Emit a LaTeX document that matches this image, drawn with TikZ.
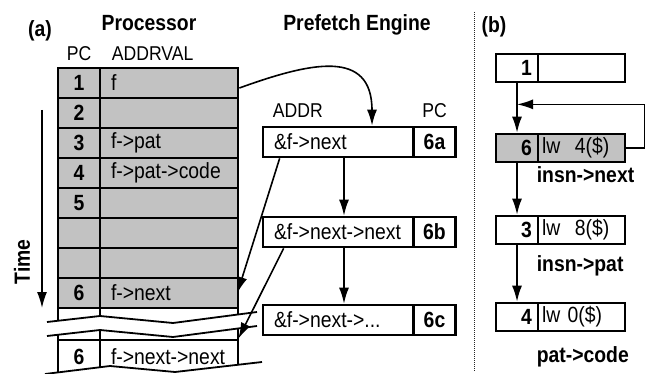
\documentclass[tikz,border=0pt]{standalone}
\usepackage{fontspec}
\setmainfont{Liberation Sans}[FakeStretch=0.88]
\usepackage{tikz}
\usetikzlibrary{arrows.meta,positioning}

\definecolor{cellgray}{gray}{0.76}
\newcommand{\pdots}{...}

\tikzset{
	txt/.style={font=\fontsize{22pt}{24pt}\selectfont, inner sep=0pt},
	hdr/.style={font=\fontsize{20pt}{22pt}\selectfont, inner sep=0pt},
	ttl/.style={font=\fontsize{22pt}{24pt}\selectfont\bfseries, inner sep=0pt},
	cell/.style={draw, line width=2.7pt, minimum height=30pt, inner sep=0pt, font=\fontsize{22pt}{24pt}\selectfont},
	pccell/.style={cell, minimum width=42pt, font=\fontsize{22pt}{24pt}\selectfont\bfseries},
	valcell/.style={cell, text width=116pt, inner xsep=11pt, align=left},
	blcell/.style={cell, minimum height=28pt, text width=30pt, inner xsep=6pt, align=right, font=\fontsize{22pt}{24pt}\selectfont\bfseries},
	brcell/.style={cell, minimum height=28pt, text width=79pt, inner xsep=4pt, align=left},
	arr/.style={-{Latex[length=16pt,width=10pt]}, line width=1.6pt},
	brk/.style={line width=1.8pt}
}

\begin{document}
\begin{tikzpicture}[x=1pt, y=-1pt]
		\useasboundingbox (0,0) rectangle (652,374);

		% Titles
		\node[ttl, anchor=base] (la) at (40,37) {(a)};
		\node[ttl, anchor=base] (proc) at (149,31) {Processor};
		\node[ttl, anchor=base] (pref) at (357,31) {Prefetch Engine};
		\node[ttl, anchor=base] (lb) at (494,33) {(b)};

		% Processor table
		\foreach \i/\pc/\val in {1/1/f, 2/2/, 3/3/f->pat, 4/4/f->pat->code, 5/5/, 6//, 7//, 8/6/f->next}
		{
			\node[pccell, fill=cellgray] (pc\i) at (79,{53+30*\i}) {\pc};
			\node[valcell, fill=cellgray] (av\i) at (169,{53+30*\i}) {\val};
		}
		\node[pccell, minimum height=32pt] (pc9) at (79,324) {};
		\node[valcell, minimum height=32pt] (av9) at (169,324) {};
		\node[pccell, minimum height=34pt] (pc10) at (79,357) {6};
		\node[valcell, minimum height=34pt] (av10) at (169,357) {f->next->next};
		\node[hdr, anchor=base] (pchead) at ([yshift=6pt]pc1.north) {PC};
		\node[hdr, anchor=base west] (avhead) at ([xshift=13pt,yshift=6pt]av1.north west) {ADDRVAL};

		% Breaks
		\fill[white] (47,322) -- (100,316) -- (173,323) -- (257,312) -- (257,326) -- (173,337) -- (100,330) -- (47,336) -- cycle;
		\draw[brk] (47,322) -- (100,316) -- (173,323) -- (257,312);
		\draw[brk] (47,336) -- (100,330) -- (173,337) -- (257,326);
		\fill[white] (45,374) -- (110,366) -- (175,372) -- (262,362) -- (262,380) -- (45,380) -- cycle;
		\draw[brk] (45,374) -- (110,366) -- (175,372) -- (262,362);

		% Time
		\coordinate (t0) at (42,110);
		\coordinate (t1) at (42,308);
		\draw[arr] (t0) -- (t1);
		\node[ttl, rotate=90] (time) at (22,262) {Time};

		% Prefetch engine
		\foreach \r/\y/\addr in {a/142/\&f->next, b/232/\&f->next->next, c/320/\&f->next->\pdots}
		{
			\node[valcell, text width=128pt] (p\r) at (338,\y) {\addr};
			\node[pccell] (pc\r) at (434.5,\y) {6\r};
		}
		\node[hdr, anchor=base west] (addrhead) at ([xshift=11pt,yshift=8pt]pa.north west) {ADDR};
		\node[hdr, anchor=base] (pfhead) at ([yshift=8pt]pca.north) {PC};

		\draw[arr] ([yshift=-5pt]av1.east) .. controls +(72,-26) and +(0,-77) .. ([xshift=34pt]pa.north);
		\draw[arr] ([xshift=6pt]pa.south) -- ([xshift=6pt]pb.north);
		\draw[arr] ([xshift=6pt]pb.south) -- ([xshift=6pt]pc.north);
		\draw[arr] ([xshift=18pt]pa.south west) -- ([xshift=-2pt]av8.east);
		\draw[arr] ([xshift=22pt]pb.south west) -- ([xshift=-1pt]av10.north east);

		% Separator
		\coordinate (s0) at (474,12);
		\coordinate (s1) at (474,372);
		\draw[densely dotted, line width=1pt, black!85] (s0) -- (s1);

		% (b) loop
		\foreach \b/\y/\ins/\col in {1/68//white, 6/148/lw~~4(\$)/cellgray, 3/230/lw~~8(\$)/white, 4/317/lw 0(\$)/white}
		{
			\node[blcell, fill=\col] (bl\b) at (517,\y) {\b};
			\node[brcell, fill=\col] (br\b) at (581.5,\y) {\ins};
		}
		\node[ttl, anchor=base west] (n6) at ([yshift=-19pt]br6.south west) {insn->next};
		\node[ttl, anchor=base west] (n3) at ([yshift=-26pt]br3.south west) {insn->pat};
		\node[ttl, anchor=base west] (n4) at ([yshift=-30pt]br4.south west) {pat->code};

		\coordinate (join) at ([yshift=-21pt]bl1.south);
		\draw[arr] (bl1.south) -- (bl6.north);
		\draw[arr] (br6.east) -- ++(18,0) |- (join);
		\draw[arr] (bl6.south) -- (bl3.north);
		\draw[arr] (bl3.south) -- (bl4.north);
	\end{tikzpicture}
\end{document}
